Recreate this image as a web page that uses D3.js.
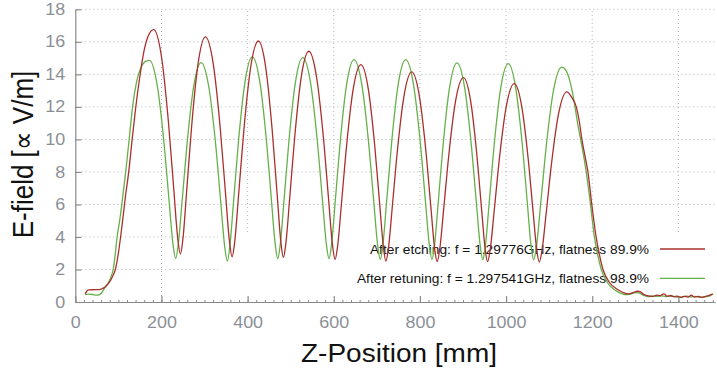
<!DOCTYPE html>
<html><head><meta charset="utf-8">
<script src="https://cdn.jsdelivr.net/npm/d3@7"></script>
<style>
html,body{margin:0;padding:0;background:#fff;}
svg{display:block;font-family:"Liberation Sans",Arial,sans-serif;}
</style></head>
<body><svg id="chart" width="717" height="372"></svg>
<script>
// ---- data ----
const xTicks = [0, 200, 400, 600, 800, 1000, 1200, 1400];
const yTicks = [0, 2, 4, 6, 8, 10, 12, 14, 16, 18];
const seriesLabels = [
  "After etching: f = 1.29776GHz, flatness 89.9%",
  "After retuning: f = 1.297541GHz, flatness 98.9%"
];
const seriesColors = ["#a8302c", "#66b04a"];
// [z (mm), E-field]
const etchedProfile = [
[23,0.5],[27,0.68],[32,0.74],[45,0.76],[58,0.78],[65,0.85],[72,1.0],[80,1.25],[87,1.6],[93,2.0],[100,3.0],[108,4.6],[116,6.4],[124,8.0],[132,10.0],[140,11.9],[150,13.9],[160,15.5],[170,16.4],[182,16.75],
[200.6,14.99],[216.1,11.10],[228.5,6.96],[237.8,3.92],[244,2.95],[249.8,3.87],[258.5,6.81],[270.1,10.81],[284.6,14.58],[302,16.3],
[320.6,14.58],[336.1,10.79],[348.5,6.75],[357.8,3.75],[364,2.78],[370.1,3.72],[379.3,6.66],[391.5,10.63],[406.7,14.36],[425,16.05],
[442.4,14.36],[456.9,10.62],[468.5,6.64],[477.2,3.69],[483,2.74],[488.9,3.63],[497.8,6.42],[509.6,10.22],[524.3,13.80],[542,15.42],
[560.3,13.79],[575.6,10.21],[587.8,6.38],[596.9,3.54],[603,2.62],[609,3.45],[618,6.09],[630,9.68],[645,13.07],[663,14.6],
[680.4,13.06],[694.9,9.67],[706.5,6.05],[715.2,3.38],[721,2.52],[727,3.33],[736,5.89],[748,9.38],[763,12.66],[781,14.15],
[798.7,12.66],[813.5,9.38],[825.3,5.88],[834.1,3.30],[840,2.48],[846.1,3.27],[855.3,5.76],[867.5,9.15],[882.7,12.35],[901,13.8],
[917.8,12.35],[931.8,9.15],[943,5.76],[951.4,3.27],[957,2.48],[963.2,3.23],[972.5,5.63],[984.9,8.92],[1000.4,12.02],[1019,13.43],
[1036.4,12.02],[1050.9,8.92],[1062.5,5.62],[1071.2,3.21],[1077,2.46],[1083.4,3.16],[1093,5.44],[1105.8,8.59],[1121.8,11.57],[1141,12.92],
[1152,12.6],[1163,12.0],[1170,11.1],[1176,10.0],[1183,9.0],[1190,8.0],[1199,6.0],[1209,4.0],[1216,3.0],[1225,2.0],[1240,1.2],[1260,0.75],[1275,0.55],
[1285,0.5],[1295,0.58],[1305,0.66],[1312,0.62],[1320,0.45],[1330,0.38],[1340,0.35],[1350,0.42],[1358,0.38],[1366,0.5],[1374,0.36],[1382,0.4],[1390,0.32],[1398,0.36],[1406,0.28],[1414,0.35],[1422,0.3],[1430,0.42],[1438,0.3],[1446,0.35],[1454,0.28],[1462,0.33],[1470,0.4],[1480,0.48]
];
const retunedProfile = [
[23,0.45],[30,0.48],[40,0.46],[50,0.42],[56,0.45],[62,0.6],[68,0.85],[75,1.1],[82,1.5],[88,2.0],[93,3.0],[97,4.0],[103,5.0],[108,6.0],[117,8.0],[125,10.0],[133,12.0],[142,13.5],[152,14.4],[162,14.78],[172,14.86],
[190.3,13.30],[205.6,9.86],[217.8,6.20],[226.9,3.52],[233,2.68],[238.9,3.51],[247.8,6.15],[259.6,9.77],[274.3,13.17],[292,14.72],
[310.3,13.16],[325.6,9.75],[337.8,6.09],[346.9,3.39],[353,2.52],[358.8,3.43],[367.5,6.22],[379.1,9.97],[393.6,13.48],[411,15.07],
[428.7,13.48],[443.5,9.99],[455.3,6.27],[464.1,3.53],[470,2.66],[475.8,3.53],[484.5,6.25],[496.1,9.96],[510.6,13.45],[528,15.03],
[546.3,13.45],[561.6,9.96],[573.8,6.25],[582.9,3.53],[589,2.66],[594.8,3.52],[603.5,6.21],[615.1,9.89],[629.6,13.34],[647,14.91],
[665.3,13.34],[680.6,9.88],[692.8,6.20],[701.9,3.48],[708,2.62],[713.9,3.48],[722.8,6.20],[734.6,9.88],[749.3,13.34],[767,14.91],
[785.3,13.34],[800.6,9.88],[812.8,6.20],[821.9,3.48],[828,2.62],[833.8,3.46],[842.5,6.12],[854.1,9.75],[868.6,13.15],[886,14.7],
[904,13.15],[919,9.74],[931,6.12],[940,3.45],[946,2.6],[951.9,3.44],[960.8,6.10],[972.6,9.72],[987.3,13.11],[1005,14.66],
[1022.7,13.11],[1037.5,9.72],[1049.3,6.10],[1058.1,3.44],[1064,2.6],[1070.5,3.42],[1080.3,6.03],[1093.3,9.59],[1109.5,12.93],[1129,14.45],
[1140,14.2],[1148,13.6],[1154,12.9],[1160,12.0],[1166,11.0],[1173,10.0],[1180,9.0],[1186,8.0],[1196,6.0],[1205,4.0],[1212,3.0],[1221,2.0],[1235,1.2],[1255,0.7],[1270,0.5],
[1280,0.45],[1290,0.5],[1300,0.58],[1310,0.55],[1320,0.4],[1330,0.33],[1340,0.36],[1350,0.35],[1360,0.38],[1370,0.33],[1380,0.36],[1390,0.34],[1400,0.3],[1410,0.33],[1420,0.36],[1430,0.31],[1440,0.34],[1450,0.3],[1460,0.32],[1470,0.35],[1480,0.5]
];

// ---- layout ----
const svg = d3.select("#chart");
const X0 = 75.3, X1 = 715, Y0 = 302, Y1 = 9.3;
const x = d3.scaleLinear().domain([0, 1485]).range([X0, X1]);
const y = d3.scaleLinear().domain([0, 18]).range([Y0, Y1]);
const axisGray = "#8a8a8a", labelGray = "#8c9096", gridGray = "#b4b4b4";
const SX = 1.12; // horizontal stretch of the reference's text

// grid
const grid = svg.append("g");
grid.selectAll("line.gy").data(yTicks.filter(d => d > 0)).join("line")
  .attr("x1", X0 + 6).attr("x2", X1).attr("y1", d => y(d)).attr("y2", d => y(d))
  .attr("stroke", gridGray).attr("stroke-width", 1).attr("stroke-dasharray", "1,3");
grid.selectAll("line.gx").data(xTicks.filter(d => d > 0)).join("line")
  .attr("x1", d => x(d)).attr("x2", d => x(d)).attr("y1", Y0 - 6).attr("y2", Y1)
  .attr("stroke", gridGray).attr("stroke-width", 1).attr("stroke-dasharray", "1,3");

// legend background (opaque box)
svg.append("rect").attr("x", 218).attr("y", 233).attr("width", X1 - 218).attr("height", Y0 - 233 - 1)
  .attr("fill", "#fff");

// axes
const minorX = d3.range(0, 1481, 20);
svg.append("g").attr("transform", `translate(0,${Y0})`)
  .call(d3.axisBottom(x).tickValues(minorX).tickSize(-2).tickFormat(""))
  .call(g => g.select(".domain").remove())
  .call(g => g.selectAll("line").attr("stroke", axisGray));
const gx = svg.append("g").attr("transform", `translate(0,${Y0})`)
  .call(d3.axisBottom(x).tickValues(xTicks).tickFormat(d3.format("d"))
    .tickSizeInner(-6).tickSizeOuter(0).tickPadding(14.5));
gx.select(".domain").attr("stroke", axisGray).attr("stroke-width", 1.2);
gx.selectAll(".tick line").attr("stroke", axisGray).attr("stroke-width", 1.2);
gx.selectAll(".tick text").attr("fill", labelGray).attr("font-size", 16)
  .attr("font-family", "Liberation Sans, Arial, sans-serif")
  .attr("transform", `scale(${SX},1)`);

const gy = svg.append("g").attr("transform", `translate(${X0},0)`)
  .call(d3.axisLeft(y).tickValues(yTicks).tickFormat(d3.format("d"))
    .tickSizeInner(-6).tickSizeOuter(0).tickPadding(9));
gy.select(".domain").attr("stroke", axisGray).attr("stroke-width", 1.2);
gy.selectAll(".tick line").attr("stroke", axisGray).attr("stroke-width", 1.2);
gy.selectAll(".tick text").attr("fill", labelGray).attr("font-size", 16)
  .attr("font-family", "Liberation Sans, Arial, sans-serif")
  .attr("transform", `scale(${SX},1)`);

// axis titles
svg.append("text").attr("transform", `translate(399,361.5) scale(${SX},1)`)
  .attr("text-anchor", "middle").attr("font-size", 25).attr("fill", "#111")
  .text("Z-Position [mm]");
svg.append("text").attr("transform", `translate(33,154.5) scale(${SX},1) rotate(-90)`)
  .attr("text-anchor", "middle").attr("font-size", 26).attr("fill", "#111")
  .text("E-field [\u221D V/m]");

// legend
const legendY = [254, 283.3];
seriesLabels.forEach((lab, i) => {
  svg.append("text").attr("transform", `translate(649,${legendY[i]}) scale(1.1,1)`)
    .attr("text-anchor", "end").attr("font-size", 12.5).attr("fill", "#111").text(lab);
  svg.append("line").attr("x1", 660).attr("x2", 705)
    .attr("y1", legendY[i] - 5).attr("y2", legendY[i] - 5)
    .attr("stroke", seriesColors[i]).attr("stroke-width", 1.3);
});

// curves
const line = d3.line().x(d => x(d[0])).y(d => y(d[1])).curve(d3.curveMonotoneX);
[retunedProfile, etchedProfile].forEach((data, k) => {
  svg.append("path").datum(data).attr("d", line).attr("fill", "none")
    .attr("stroke", seriesColors[k === 0 ? 1 : 0]).attr("stroke-width", 1.3)
    .attr("stroke-linejoin", "round");
});
</script></body></html>
